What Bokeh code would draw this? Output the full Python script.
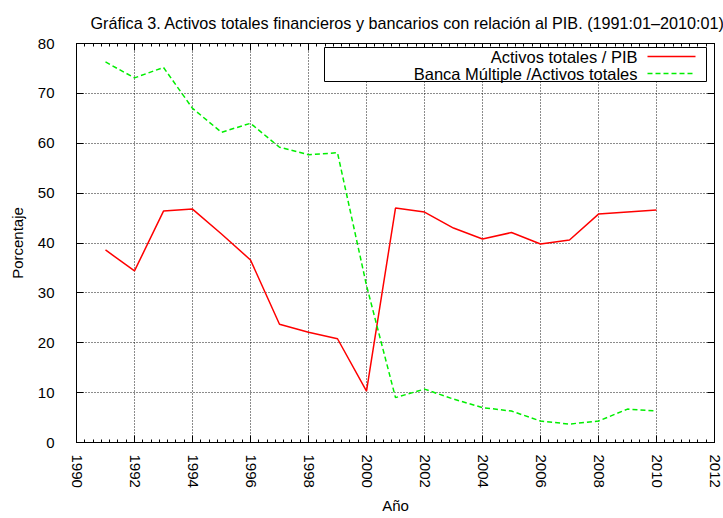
from bokeh.plotting import figure
from bokeh.models import (LinearAxis, Range1d, SingleIntervalTicker, BoxAnnotation,
                          Label, Arrow, Title)
from bokeh.embed import file_html
from bokeh.resources import INLINE

years = [1991, 1992, 1993, 1994, 1995, 1996, 1997, 1998, 1999, 2000,
         2001, 2002, 2003, 2004, 2005, 2006, 2007, 2008, 2009, 2010]
activos_pib = [38.6, 34.4, 46.4, 46.8, 41.8, 36.6, 23.7, 22.1, 20.8, 10.3,
               47.0, 46.2, 43.0, 40.8, 42.1, 39.8, 40.6, 45.8, 46.2, 46.6]
banca_activos = [76.3, 73.1, 75.2, 67.0, 62.2, 64.0, 59.2, 57.7, 58.1, 31.5,
                 9.0, 10.7, 8.7, 7.0, 6.3, 4.3, 3.7, 4.3, 6.7, 6.3]

title_text = "Gráfica 3. Activos totales financieros y bancarios con relación al PIB. (1991:01\u20132010:01)"
label_red = "Activos totales / PIB"
label_green = "Banca Múltiple /Activos totales"
x_label = "Año"
y_label = "Porcentaje"

FONT = "Liberation Sans"

p = figure(width=723, height=518, x_range=Range1d(1990, 2012), y_range=Range1d(0, 80),
           output_backend="svg", toolbar_location=None,
           min_border_left=76, min_border_right=9, min_border_top=41, min_border_bottom=76)

p.title.text = title_text
p.title.align = "left"
p.title.offset = 14
p.title.standoff = 23
p.title.text_font = FONT
p.title.text_font_size = "16.2px"
p.title.text_font_style = "normal"
p.title.text_color = "black"

p.outline_line_color = "black"
p.outline_line_width = 1
p.outline_line_alpha = 1

xt = SingleIntervalTicker(interval=2, num_minor_ticks=7)
yt = SingleIntervalTicker(interval=10, num_minor_ticks=0)

for ax in p.xaxis:
    ax.ticker = xt
    ax.major_label_orientation = "vertical"
for ax in p.yaxis:
    ax.ticker = yt
    ax.axis_label = y_label

for ax in list(p.xaxis) + list(p.yaxis):
    ax.axis_line_color = "black"
    ax.major_tick_in = 7
    ax.major_tick_out = 0
    ax.minor_tick_in = 3
    ax.minor_tick_out = 0
    ax.major_tick_line_color = "black"
    ax.minor_tick_line_color = "black"
    ax.major_label_text_font = FONT
    ax.major_label_text_font_size = "15px"
    ax.major_label_text_color = "black"
    ax.axis_label_text_font = FONT
    ax.axis_label_text_font_size = "15px"
    ax.axis_label_text_font_style = "normal"
    ax.axis_label_text_color = "black"

p.xaxis.major_label_standoff = 12
p.yaxis.major_label_standoff = 22
p.yaxis.axis_label_standoff = 9

# x-axis title, stacked below the bottom axis
p.add_layout(Title(text=x_label, align="center", text_font=FONT, text_font_size="15px",
                   text_font_style="normal", text_color="black", standoff=9), "below")

# mirrored tick axes (no labels drawn)
top = LinearAxis(ticker=xt, major_tick_in=7, major_tick_out=0, minor_tick_in=3, minor_tick_out=0,
                 major_label_text_font_size="1px", major_label_text_color=None, major_label_standoff=0,
                 axis_line_color="black", major_tick_line_color="black", minor_tick_line_color="black")
right = LinearAxis(ticker=yt, major_tick_in=7, major_tick_out=0, minor_tick_in=0, minor_tick_out=0,
                   major_label_text_font_size="1px", major_label_text_color=None, major_label_standoff=0,
                   axis_line_color="black", major_tick_line_color="black")
p.add_layout(top, "above")
p.add_layout(right, "right")

p.xgrid.ticker = xt
p.ygrid.ticker = yt
for g in (p.xgrid, p.ygrid):
    g.grid_line_color = "black"
    g.grid_line_dash = "1 2"
    g.grid_line_width = 1
    g.grid_line_alpha = 0.9

p.line(years, activos_pib, line_color="#ff0000", line_width=1.5)
p.line(years, banca_activos, line_color="#00ee00", line_width=1.5, line_dash="5 3")

# legend (gnuplot style: text on the left, sample on the right), frame-relative screen units
box = BoxAnnotation(left=248, right=630, bottom=361, top=395,
                    left_units="screen", right_units="screen", top_units="screen", bottom_units="screen",
                    fill_color="white", fill_alpha=1, line_color="black", line_width=1, line_alpha=1)
p.add_layout(box)
for txt, yy, col, dash in [(label_red, 386, "#ff0000", "solid"), (label_green, 369, "#00ee00", "5 3")]:
    p.add_layout(Label(x=561, y=yy, x_units="screen", y_units="screen", text=txt,
                       text_align="right", text_baseline="middle", text_font=FONT,
                       text_font_size="16.5px", text_color="black"))
    p.add_layout(Arrow(x_start=571, y_start=yy, x_end=619, y_end=yy,
                       start_units="screen", end_units="screen", end=None,
                       line_color=col, line_width=1.5, line_dash=dash))

open("out.html", "w").write(file_html(p, INLINE))
